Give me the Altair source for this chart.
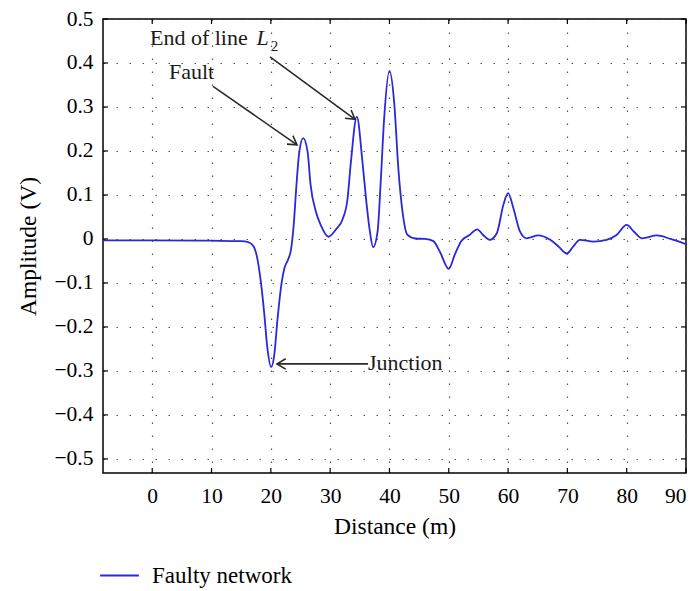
import altair as alt
import pandas as pd

# ---- data ----
dist = [-8.3, 0, 10, 15, 16.2, 17.1, 17.7, 18.3, 18.9, 19.4, 20.05, 20.6, 21.1, 21.7,
        22.3, 22.9, 23.4, 23.9, 24.2, 24.8, 25.45, 26.2, 26.7, 27.6, 28.4, 29.7, 31.0,
        32.1, 32.9, 33.5, 34.5, 35.45, 36.1, 36.7, 37.25, 38.0, 38.5, 39.1, 40.0, 40.8,
        41.5, 42.2, 43.0, 44.4, 46.0, 47.4, 48.5, 50.0, 51.0, 52.1, 53.5, 54.8, 55.8,
        56.9, 58.1, 59.2, 60.0, 60.9, 62.0, 63.1, 65.1, 67.1, 68.5, 69.9, 71.0, 72.1,
        74.4, 76.6, 78.3, 80.0, 81.2, 82.6, 85.1, 87.4, 90.0]
amp = [-0.003, -0.003, -0.004, -0.005, -0.007, -0.017, -0.043, -0.096, -0.171, -0.246,
       -0.291, -0.261, -0.186, -0.111, -0.066, -0.047, -0.024, 0.039, 0.1, 0.198, 0.229,
       0.198, 0.123, 0.062, 0.032, 0.005, 0.022, 0.045, 0.088, 0.175, 0.278, 0.175, 0.085,
       0.017, -0.019, 0.017, 0.123, 0.273, 0.382, 0.31, 0.16, 0.062, 0.01, 0.001, 0.0,
       -0.005, -0.029, -0.068, -0.036, -0.005, 0.009, 0.022, 0.009, -0.002, 0.013, 0.077,
       0.104, 0.07, 0.017, 0.0015, 0.008, -0.002, -0.017, -0.033, -0.017, -0.002, -0.006,
       -0.002, 0.009, 0.032, 0.017, 0.0015, 0.008, 0.0, -0.012]
series_name = "Faulty network"

x_ticks = [0, 10, 20, 30, 40, 50, 60, 70, 80, 90]
y_ticks = [-0.5, -0.4, -0.3, -0.2, -0.1, 0.0, 0.1, 0.2, 0.3, 0.4, 0.5]
x_domain = [-8.3, 90]
y_domain = [-0.532, 0.5]

# annotations
ann_text = ["End of line", "Fault", "Junction"]
ann_x = [-0.38, 2.83, 36.38]
ann_y = [0.440, 0.3626, -0.2977]
ital_text = ["L"]
ital_x = [17.6]
ital_y = [0.440]
sub_text = ["2"]
sub_x = [20.0]
sub_y = [0.4279]

arr_x1 = [19.86, 10.25, 36.38]
arr_y1 = [0.414, 0.347, -0.284]
arr_x2 = [34.19, 24.41, 21.04]
arr_y2 = [0.272, 0.214, -0.284]
arr_angle = [126.5, 125.1, 270]

W, H = 583, 454
FONT = "Liberation Serif"
FS = 22
LFS = 21.5
TFS = 23.5
BLUE = "#2828dc"

xs = alt.Scale(domain=x_domain, nice=False, zero=False)
ys = alt.Scale(domain=y_domain, nice=False, zero=False)
xaxis = alt.Axis(values=x_ticks, format="~f", tickSize=0, labelPadding=12,
                 titlePadding=8, grid=True, domain=False, title="Distance (m)")
yaxis = alt.Axis(values=y_ticks, format=".1~f", tickSize=0, labelPadding=10,
                 titlePadding=13, grid=True, domain=False, title="Amplitude (V)")


def X(f):
    return alt.X(f, scale=xs, axis=xaxis)


def Y(f):
    return alt.Y(f, scale=ys, axis=yaxis)


df = pd.DataFrame({"d": dist, "a": amp, "s": series_name})
xt = pd.DataFrame({"t": x_ticks})
yt = pd.DataFrame({"t": y_ticks})
ann = pd.DataFrame({"x": ann_x, "y": ann_y, "txt": ann_text})
ital = pd.DataFrame({"x": ital_x, "y": ital_y, "txt": ital_text})
sub = pd.DataFrame({"x": sub_x, "y": sub_y, "txt": sub_text})
arr = pd.DataFrame({"x1": arr_x1, "y1": arr_y1, "x2": arr_x2, "y2": arr_y2, "ang": arr_angle})

line = alt.Chart(df).mark_line(strokeWidth=1.8, interpolate="monotone").encode(
    x=X("d:Q"),
    y=Y("a:Q"),
    color=alt.Color("s:N", scale=alt.Scale(domain=[series_name], range=[BLUE]),
                    legend=alt.Legend(title=None, orient="none", legendX=-4, legendY=536,
                                      symbolType="stroke", symbolSize=1500,
                                      symbolStrokeWidth=1.8, labelFont=FONT,
                                      labelFontSize=23, labelColor="black",
                                      labelOffset=12)),
)

tick_len = 5
xb = alt.Chart(xt).mark_rule(color="black", strokeWidth=1.2).encode(
    x=X("t:Q"), y=alt.value(H), y2=alt.value(H - tick_len))
xtop = alt.Chart(xt).mark_rule(color="black", strokeWidth=1.2).encode(
    x=X("t:Q"), y=alt.value(0), y2=alt.value(tick_len))
yl = alt.Chart(yt).mark_rule(color="black", strokeWidth=1.2).encode(
    y=Y("t:Q"), x=alt.value(0), x2=alt.value(tick_len))
yr = alt.Chart(yt).mark_rule(color="black", strokeWidth=1.2).encode(
    y=Y("t:Q"), x=alt.value(W), x2=alt.value(W - tick_len))

shafts = alt.Chart(arr).mark_rule(color="#2a2a2a", strokeWidth=1.6).encode(
    x=X("x1:Q"), y=Y("y1:Q"), x2="x2:Q", y2="y2:Q")
heads = alt.Chart(arr).mark_point(shape="M -0.6 1 L 0 0 L 0.6 1", filled=False,
                                  stroke="#2a2a2a", strokeWidth=1.6, size=300,
                                  opacity=1).encode(
    x=X("x2:Q"), y=Y("y2:Q"), angle=alt.Angle("ang:Q", scale=None))

texts = alt.Chart(ann).mark_text(font=FONT, fontSize=FS, align="left",
                                 baseline="alphabetic", color="#1a1a1a").encode(
    x=X("x:Q"), y=Y("y:Q"), text="txt:N")
itext = alt.Chart(ital).mark_text(font=FONT, fontSize=FS, fontStyle="italic", align="left",
                                  baseline="alphabetic", color="#1a1a1a").encode(
    x=X("x:Q"), y=Y("y:Q"), text="txt:N")
stext = alt.Chart(sub).mark_text(font=FONT, fontSize=15, align="left",
                                 baseline="alphabetic", color="#1a1a1a").encode(
    x=X("x:Q"), y=Y("y:Q"), text="txt:N")

chart = alt.layer(line, xb, xtop, yl, yr, shafts, heads, texts, itext, stext).properties(
    width=W, height=H,
    background="white",
    autosize=alt.AutoSizeParams(type="none"),
    padding={"left": 95, "top": 11, "right": 6, "bottom": 115},
).configure_view(stroke="black", strokeWidth=1.5).configure_axis(
    labelFont=FONT, labelFontSize=LFS, labelColor="black",
    titleFont=FONT, titleFontSize=TFS, titleColor="black", titleFontWeight="normal",
    gridColor="#555555", gridDash=[1.5, 11.5], gridWidth=1.2, gridOpacity=1,
)

chart.save("out.html", embed_options={"renderer": "svg", "actions": False})
